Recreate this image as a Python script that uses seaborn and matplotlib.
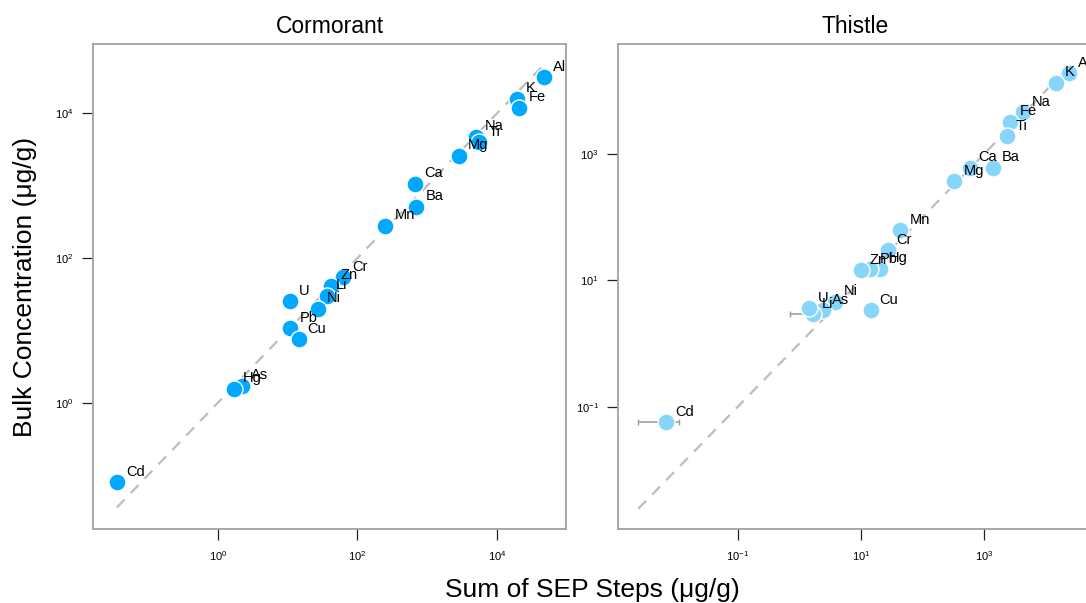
import numpy as np
import pandas as pd
import matplotlib
matplotlib.use("Agg")
import matplotlib.pyplot as plt
import seaborn as sns

# ---------------- data ----------------
corm_elements = ["Al", "K", "Fe", "Na", "Ti", "Mg", "Ca", "Ba", "Mn", "Cr",
                 "Zn", "Li", "Ni", "U", "Pb", "Cu", "As", "Hg", "Cd"]
corm_sep = [46900, 19500, 21000, 5040, 5610, 2830, 678, 701, 251, 62.1,
            42.3, 36.6, 26.9, 10.9, 10.9, 14.4, 2.21, 1.71, 0.0356]
corm_bulk = [31700, 15900, 12000, 4780, 4000, 2610, 1070, 514, 281, 54.2,
             41.5, 30.2, 20.0, 25.2, 10.7, 7.53, 1.72, 1.56, 0.0793]
corm_err = [0] * 19

this_elements = ["Al", "K", "Na", "Fe", "Ti", "Ba", "Ca", "Mg", "Mn", "Cr",
                 "Hg", "Pb", "Zn", "Cu", "Ni", "As", "Li", "U", "Cd"]
this_sep = [23800, 14800, 4250, 2660, 2310, 1380, 583, 329, 43.6, 27.1,
            20.1, 14.2, 10.0, 14.3, 3.72, 2.41, 1.67, 1.44, 0.00682]
this_bulk = [18800, 13400, 4550, 3240, 1920, 605, 605, 372, 62.5, 30.1,
             15.3, 14.9, 14.6, 3.39, 4.58, 3.39, 2.93, 3.65, 0.0573]
this_err = [0, 0, 0, 0, 0, 0, 0, 0, 0, 0,
            0, 0, 0, 0, 0, 0, 0.97, 0, 0.0044]

panel_titles = ["Cormorant", "Thistle"]
x_label = "Sum of SEP Steps (\u03bcg/g)"
y_label = "Bulk Concentration (\u03bcg/g)"

# ---------------- style ----------------
sns.set_style("white")
plt.rcParams["font.family"] = ["Liberation Sans", "DejaVu Sans"]
plt.rcParams["mathtext.fontset"] = "custom"
plt.rcParams["mathtext.rm"] = "Liberation Sans"
plt.rcParams["mathtext.it"] = "Liberation Sans:italic"
plt.rcParams["mathtext.bf"] = "Liberation Sans:bold"
plt.rcParams["text.color"] = "black"
plt.rcParams["axes.labelcolor"] = "black"
plt.rcParams["xtick.color"] = "black"
plt.rcParams["ytick.color"] = "black"

W, H = 1086, 603
fig = plt.figure(figsize=(W / 100, H / 100), dpi=100)
fig.patch.set_facecolor("white")

bottom = (H - 529.3) / H
height = 485.3 / H
ax1 = fig.add_axes([93 / W, bottom, 473 / W, height])
ax2 = fig.add_axes([618.3 / W, bottom, 473 / W, height])

panels = [
    (ax1, corm_elements, corm_sep, corm_bulk, corm_err, "#00A9FF",
     (-1.79, 4.99), (-1.75, 4.96), [0, 2, 4]),
    (ax2, this_elements, this_sep, this_bulk, this_err, "#87D5FA",
     (-2.94, 4.74), (-2.94, 4.74), [-1, 1, 3]),
]

for i, (ax, el, xs, ys, errs, col, xl, yl, ticks) in enumerate(panels):
    df = pd.DataFrame({"element": el, "sep": xs, "bulk": ys, "err": errs})
    ax.set_xscale("log")
    ax.set_yscale("log")
    # 1:1 reference line over data range
    lo = min((df["sep"] - df["err"]).min(), df["sep"].min())
    hi = df["sep"].max()
    ax.plot([lo, hi], [lo, hi], ls=(0, (5, 4)), color="#BDBDBD", lw=1.6, zorder=1)
    # error bars
    eb = df[df["err"] > 0]
    if len(eb):
        ax.errorbar(eb["sep"], eb["bulk"], xerr=eb["err"], fmt="none",
                    ecolor="#9E9E9E", elinewidth=1.2, capsize=2.5, capthick=1.0,
                    zorder=2)
    sns.scatterplot(data=df, x="sep", y="bulk", ax=ax, color=col, s=150,
                    edgecolor="white", linewidth=1.0, zorder=3, legend=False)
    for _, r in df.iterrows():
        ax.annotate(r["element"], (r["sep"], r["bulk"]), xytext=(6.5, 7.5),
                    textcoords="offset points", ha="left", va="center",
                    fontsize=10.5, color="black", zorder=4)
    ax.set_xlim(10 ** xl[0], 10 ** xl[1])
    ax.set_ylim(10 ** yl[0], 10 ** yl[1])
    tv = [10.0 ** t for t in ticks]
    tl = [r"$10^{%d}$" % t for t in ticks]
    ax.set_xticks(tv)
    ax.set_xticklabels(tl)
    ax.set_yticks(tv)
    ax.set_yticklabels(tl)
    ax.xaxis.set_minor_locator(matplotlib.ticker.NullLocator())
    ax.yaxis.set_minor_locator(matplotlib.ticker.NullLocator())
    ax.tick_params(axis="both", which="major", direction="out", length=8,
                   width=0.9, color="#222222", labelcolor="black", labelsize=8,
                   pad=6, bottom=True, left=True, top=False, right=False)
    for sp in ax.spines.values():
        sp.set_color("#A0A0A0")
        sp.set_linewidth(1.3)
    ax.set_xlabel("")
    ax.set_ylabel("")
    ax.set_title(panel_titles[i], fontsize=16.5, pad=8, color="black")

fig.text(592 / W, 1 - 590 / H, x_label, ha="center", va="center",
         fontsize=19, color="black")
fig.text(25 / W, 1 - 287 / H, y_label, ha="center", va="center",
         rotation=90, fontsize=19, color="black")

fig.savefig("out.png", dpi=100)
